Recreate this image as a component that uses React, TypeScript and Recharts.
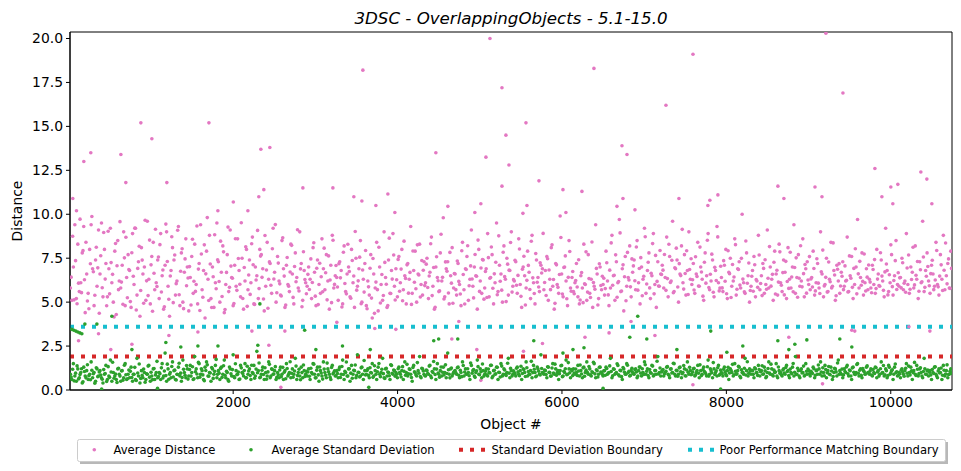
import { ReferenceArea, ReferenceLine, Scatter, ScatterChart, XAxis, YAxis } from "recharts"

// object numbers of the two sampled runs: first object and spacing between samples
const X0 = 20
const X0_B = 29
const STEP = 18

const xTicks = [2000, 4000, 6000, 8000, 10000]
const yTicks = [0, 2.5, 5, 7.5, 10, 12.5, 15, 17.5, 20]

const stdBoundary = 1.9
const poorBoundary = 3.6

// average distance, run A (20 per row)
const avgDistance = [
  5.8, 5.1, 7.0, 9.4, 5.2, 8.3, 5.6, 6.1, 7.8, 9.3, 4.4, 6.6, 5.5, 8.0, 9.4, 6.9, 4.8, 7.4, 5.9, 9.1,
  6.6, 9.5, 5.3, 8.0, 7.2, 5.3, 6.9, 9.2, 6.1, 5.0, 7.9, 4.3, 8.5, 6.2, 5.8, 7.1, 9.0, 4.8, 6.4, 7.7,
  6.8, 4.7, 8.9, 6.0, 9.2, 5.4, 7.3, 4.2, 8.1, 6.6, 7.0, 5.1, 9.6, 6.3, 4.9, 7.6, 8.4, 5.7, 6.1, 7.4,
  5.2, 8.9, 6.5, 4.6, 7.1, 9.0, 5.9, 4.2, 6.8, 8.1, 7.4, 5.4, 6.2, 9.3, 4.8, 7.8, 5.0, 6.7, 8.6, 7.0,
  4.5, 6.4, 7.6, 5.5, 8.3, 6.0, 4.9, 7.2, 9.4, 5.7, 6.8, 4.1, 7.9, 6.3, 8.8, 5.2, 7.0, 4.7, 6.1, 9.5,
  7.3, 5.0, 6.7, 8.2, 4.4, 6.0, 7.7, 5.6, 9.1, 6.4, 4.8, 7.1, 5.9, 8.6, 6.8, 5.3, 7.5, 4.6, 6.2, 8.0,
  5.7, 7.4, 6.1, 8.7, 4.9, 7.0, 6.5, 5.2, 8.0, 7.7, 6.9, 4.5, 5.9, 8.4, 6.3, 7.2, 5.5, 9.2, 6.7, 5.0,
  7.6, 6.2, 5.4, 8.5, 6.9, 4.7, 7.1, 6.0, 5.6, 8.3, 6.6, 4.9, 7.8, 6.4, 5.8, 9.0, 7.2, 5.1, 6.8, 6.1,
  5.9, 7.0, 6.3, 5.2, 8.1, 6.7, 4.8, 7.4, 6.0, 5.5, 8.6, 6.9, 5.7, 7.7, 6.2, 4.6, 7.1, 8.8, 5.8, 6.5,
  6.4, 5.1, 7.3, 6.8, 4.9, 8.2, 5.6, 6.6, 7.0, 5.3, 8.0, 6.1, 4.7, 7.5, 5.9, 6.9, 8.5, 5.0, 6.3, 7.2,
  4.8, 6.2, 5.4, 7.7, 4.1, 6.6, 5.8, 8.4, 4.5, 7.0, 6.0, 5.1, 9.0, 6.4, 4.7, 7.4, 5.5, 6.8, 8.9, 5.9,
  6.9, 5.3, 7.6, 6.1, 8.0, 5.7, 6.5, 4.9, 7.2, 6.3, 9.3, 5.5, 6.8, 7.9, 5.0, 6.6, 8.3, 6.0, 5.4, 7.3,
  6.1, 7.5, 5.2, 6.7, 8.7, 5.9, 4.6, 7.0, 6.4, 5.6, 7.8, 6.2, 9.8, 5.3, 6.9, 7.3, 4.9, 6.5, 8.1, 5.8,
  6.6, 5.4, 7.2, 6.0, 4.8, 8.4, 5.7, 6.9, 7.6, 5.1, 6.3, 9.1, 5.9, 7.0, 6.5, 4.6, 8.0, 6.2, 5.5, 7.4,
  5.8, 6.9, 8.9, 5.3, 6.4, 7.7, 4.9, 6.1, 9.5, 5.6, 7.1, 6.6, 5.0, 8.2, 6.3, 7.5, 5.4, 6.8, 9.0, 5.9,
  6.2, 7.3, 5.5, 8.6, 6.0, 4.7, 7.0, 6.5, 5.8, 7.9, 6.7, 5.2, 8.8, 6.1, 4.9, 7.4, 6.4, 5.6, 7.1, 6.9,
  5.7, 6.8, 7.6, 5.1, 6.3, 8.1, 5.9, 4.6, 7.2, 6.0, 5.5, 9.9, 6.6, 5.3, 7.0, 6.2, 4.8, 8.5, 5.8, 6.4,
  5.6, 6.1, 7.2, 5.3, 4.9, 6.5, 5.8, 8.3, 6.0, 5.1, 7.7, 5.5, 6.3, 4.7, 5.9, 9.4, 6.6, 5.2, 7.0, 5.7,
  6.0, 5.4, 7.9, 6.2, 4.8, 5.8, 8.8, 6.5, 5.1, 7.3, 6.1, 9.7, 5.6, 6.9, 4.5, 7.6, 5.9, 6.4, 8.2, 5.3,
  6.7, 7.4, 5.7, 8.5, 6.1, 4.9, 7.0, 6.3, 9.2, 5.5, 6.8, 7.8, 5.2, 6.5, 8.9, 6.0, 4.7, 7.3, 5.9, 6.6,
  7.1, 5.8, 6.4, 8.7, 5.3, 7.6, 6.2, 9.6, 5.6, 6.9, 7.4, 5.0, 6.6, 8.2, 6.1, 7.7, 5.4, 6.8, 9.0, 6.3,
  6.0, 7.2, 5.5, 6.6, 8.4, 5.9, 7.0, 6.3, 5.1, 7.8, 6.5, 8.9, 5.7, 6.2, 7.4, 5.3, 6.8, 9.3, 6.1, 5.8,
  6.4, 5.6, 7.1, 8.0, 5.2, 6.7, 7.5, 5.9, 6.2, 8.6, 5.4, 6.9, 7.3, 5.8, 10.0, 6.1, 5.5, 7.8, 6.5, 5.0,
  5.9, 6.8, 7.6, 5.3, 6.2, 8.8, 5.7, 6.5, 7.2, 5.5, 6.0, 9.1, 5.8, 7.0, 6.3, 5.1, 7.9, 6.6, 5.4, 8.3,
  6.1, 5.6, 7.4, 6.7, 5.2, 8.1, 6.3, 5.8, 7.0, 9.4, 5.5, 6.4, 7.7, 5.9, 6.2, 8.6, 5.3, 6.9, 7.3, 6.0,
  5.7, 6.4, 7.9, 5.4, 6.1, 7.2, 5.8, 9.0, 6.6, 5.3, 6.0, 7.5, 5.6, 6.3, 8.4, 5.9, 6.8, 5.1, 7.1, 6.2,
  5.5, 6.7, 7.3, 5.9, 6.2, 8.7, 5.6, 6.5, 7.6, 5.2, 6.0, 7.0, 9.7, 5.8, 6.4, 7.8, 5.4, 6.1, 6.9, 5.7,
  6.3, 5.8, 7.1, 6.0, 5.5, 8.0, 6.6, 5.9, 7.4, 6.2, 5.3, 9.2, 6.8, 5.6, 6.1, 7.7, 5.4, 6.5, 8.5, 6.0,
  5.9, 6.4, 7.5, 5.7, 6.2, 8.9, 6.0, 5.5, 7.0, 6.7, 5.8, 8.2, 6.3, 5.2, 7.3, 6.1, 9.6, 5.6, 6.8, 7.8,
  6.2, 5.5, 7.1, 6.6, 5.9, 8.4, 6.0, 5.4, 7.7, 6.3, 8.8, 5.7, 6.5, 7.2, 5.8, 7.9,
]

// average distance, run B
const avgDistanceB = [
  6.42, 8.75, 5.13, 7.36, 4.91, 6.08, 9.72, 5.54, 7.93, 6.27, 8.41, 5.06, 4.62, 7.18, 9.87, 6.73, 5.39, 8.12, 6.95, 4.37,
  7.64, 5.82, 8.96, 6.31, 4.79, 9.03, 5.47, 7.25, 6.58, 4.16, 8.34, 7.07, 5.71, 9.58, 6.14, 4.88, 7.52, 8.69, 5.25, 6.86,
  5.03, 7.81, 6.47, 9.21, 4.55, 6.92, 8.18, 5.66, 7.39, 4.94, 9.66, 6.21, 5.37, 8.53, 7.12, 4.48, 6.64, 9.15, 5.89, 7.57,
  8.27, 5.58, 6.83, 4.73, 9.44, 7.31, 5.16, 6.49, 8.72, 4.97, 7.68, 6.05, 9.09, 5.42, 6.76, 8.04, 4.63, 7.46, 5.93, 6.37,
  7.02, 4.84, 8.58, 6.19, 5.61, 9.33, 6.88, 4.52, 7.74, 5.28, 8.26, 6.61, 9.81, 5.09, 7.17, 4.69, 6.44, 8.83, 5.76, 7.41,
  6.17, 8.47, 5.32, 7.86, 4.58, 6.69, 9.27, 5.84, 7.05, 6.36, 4.92, 8.61, 5.67, 7.48, 6.02, 9.52, 5.21, 6.97, 8.15, 4.76,
  6.54, 5.44, 8.32, 7.13, 4.87, 6.26, 9.08, 5.77, 7.62, 6.41, 5.18, 8.79, 6.83, 4.65, 7.29, 5.96, 8.04, 6.32, 9.41, 5.53,
  7.22, 6.04, 5.35, 8.66, 6.48, 4.83, 7.54, 5.91, 6.71, 8.23, 5.27, 7.03, 6.16, 9.12, 5.63, 6.89, 4.74, 7.87, 6.29, 5.48,
  6.58, 5.72, 7.46, 6.12, 8.38, 5.34, 6.93, 4.86, 7.21, 6.44, 5.59, 8.07, 6.67, 5.13, 7.63, 6.26, 4.97, 8.52, 6.01, 7.08,
  5.86, 7.19, 6.38, 4.72, 7.84, 6.06, 5.47, 8.29, 6.74, 5.22, 7.37, 6.49, 9.02, 5.68, 6.21, 7.56, 4.91, 6.83, 5.57, 7.94,
  4.62, 5.87, 6.93, 5.23, 7.48, 4.36, 6.14, 5.71, 8.12, 4.95, 6.57, 5.38, 7.26, 6.02, 4.81, 8.64, 5.49, 6.31, 7.68, 5.12,
  6.27, 7.43, 5.62, 6.88, 5.08, 8.47, 6.35, 7.12, 5.51, 6.69, 4.87, 7.91, 6.13, 5.76, 8.26, 6.54, 5.29, 7.37, 6.81, 5.94,
  7.16, 5.83, 6.49, 8.32, 5.37, 6.97, 4.71, 7.58, 6.22, 5.64, 8.86, 6.41, 5.18, 7.29, 6.76, 5.52, 7.83, 6.08, 4.94, 6.63,
  5.71, 7.34, 6.18, 5.46, 7.92, 6.57, 4.89, 6.86, 8.21, 5.93, 7.06, 6.32, 5.24, 7.71, 6.47, 8.53, 5.61, 6.94, 7.42, 5.17,
  6.74, 5.26, 7.53, 6.36, 8.14, 5.79, 6.61, 7.27, 5.42, 8.77, 6.19, 5.68, 7.84, 6.45, 5.03, 7.16, 6.82, 8.39, 5.57, 6.28,
  7.38, 5.96, 6.52, 8.02, 5.33, 6.87, 7.61, 4.84, 6.24, 7.09, 5.72, 8.46, 6.38, 5.49, 7.77, 6.13, 5.86, 7.24, 6.66, 8.91,
  6.12, 5.38, 7.47, 6.83, 5.71, 8.26, 6.29, 4.93, 7.12, 5.84, 6.57, 8.68, 5.46, 6.97, 7.63, 5.19, 6.41, 7.88, 5.62, 6.74,
  5.48, 6.23, 5.86, 7.41, 5.12, 6.68, 4.97, 6.04, 7.86, 5.57, 6.34, 5.26, 8.42, 6.11, 5.73, 6.92, 4.84, 7.18, 5.95, 6.47,
  6.36, 5.77, 7.24, 5.41, 6.82, 8.37, 5.96, 6.53, 7.69, 5.28, 6.17, 8.94, 5.63, 7.12, 6.44, 5.08, 7.83, 6.26, 5.87, 7.46,
  7.06, 6.22, 8.14, 5.68, 6.91, 7.53, 5.36, 6.47, 8.72, 6.03, 7.27, 5.81, 6.64, 8.33, 5.47, 7.66, 6.18, 5.92, 7.94, 6.57,
  6.82, 7.71, 5.67, 6.34, 8.29, 6.12, 7.38, 5.53, 6.96, 8.07, 5.86, 7.19, 6.51, 9.14, 5.74, 6.63, 7.92, 5.43, 6.86, 7.47,
  6.27, 5.69, 7.58, 6.46, 5.92, 8.13, 6.71, 5.34, 7.27, 6.08, 8.52, 5.83, 6.59, 7.73, 5.56, 6.98, 6.23, 8.71, 5.64, 7.04,
  5.81, 7.36, 6.19, 5.48, 7.92, 6.62, 5.26, 7.14, 6.43, 8.27, 5.73, 6.86, 5.97, 7.49, 6.31, 5.59, 8.48, 6.07, 7.23, 5.66,
  6.47, 5.62, 7.13, 6.28, 5.84, 7.68, 6.06, 5.37, 6.92, 7.41, 5.73, 6.36, 8.16, 5.91, 6.58, 7.27, 5.46, 6.81, 6.14, 7.86,
  5.96, 6.68, 5.41, 7.32, 6.17, 5.78, 7.84, 6.43, 5.59, 6.97, 7.52, 5.28, 6.36, 8.21, 5.87, 6.62, 7.14, 5.51, 6.26, 7.59,
  6.32, 5.86, 6.91, 5.64, 7.47, 6.08, 5.49, 6.73, 7.96, 5.92, 6.41, 5.57, 7.28, 6.16, 5.81, 8.37, 6.54, 5.36, 6.87, 7.19,
  5.92, 6.47, 5.71, 7.06, 6.24, 5.58, 7.63, 6.36, 5.84, 6.92, 8.04, 5.47, 6.61, 7.32, 5.96, 6.18, 7.74, 5.63, 6.42, 7.11,
  6.14, 5.53, 6.86, 7.42, 5.77, 6.31, 5.94, 7.81, 6.48, 5.67, 6.72, 7.17, 5.41, 6.56, 8.26, 5.88, 6.23, 7.36, 5.72, 6.67,
  6.38, 5.81, 7.24, 6.07, 5.56, 6.94, 7.68, 5.73, 6.29, 8.12, 5.98, 6.53, 7.31, 5.62, 6.84, 6.16, 7.57, 5.84, 6.47, 7.03,
  5.93, 6.62, 7.38, 5.71, 6.26, 7.94, 5.87, 6.48, 7.12, 5.66, 6.81, 8.36, 6.04, 7.46, 5.78, 6.92,
]

// average standard deviation, run A
const avgStdDev = [
  0.9, 0.6, 1.5, 0.8, 0.5, 1.2, 0.7, 1.0, 0.4, 1.3, 0.8, 1.1, 0.6, 0.9, 1.6, 0.7, 1.0, 0.5, 1.2, 0.8,
  1.1, 0.7, 0.4, 0.9, 1.4, 0.6, 0.8, 1.7, 0.5, 1.0, 0.8, 0.6, 1.2, 0.9, 0.5, 1.1, 0.7, 1.5, 0.6, 0.9,
  0.7, 1.3, 0.5, 0.9, 0.6, 1.8, 0.8, 0.4, 1.1, 0.7, 1.0, 0.6, 0.9, 1.4, 0.5, 0.8, 1.2, 0.6, 1.0, 0.7,
  1.0, 0.6, 1.5, 0.8, 2.1, 0.5, 1.2, 0.9, 0.7, 1.6, 1.1, 0.6, 0.9, 1.3, 0.8, 0.5, 1.7, 1.0, 0.7, 1.2,
  0.8, 1.4, 1.0, 0.6, 1.9, 1.2, 0.7, 1.5, 0.9, 1.1, 0.6, 1.3, 1.6, 0.8, 1.0, 0.5, 1.2, 0.9, 1.4, 0.7,
  1.1, 0.6, 1.3, 0.9, 1.7, 0.7, 1.0, 0.5, 1.2, 0.8, 2.0, 0.7, 1.1, 0.9, 0.6, 1.4, 1.0, 0.8, 1.5, 0.7,
  0.9, 1.2, 0.6, 1.0, 1.4, 0.8, 2.2, 1.1, 0.7, 0.9, 1.3, 0.6, 1.0, 0.8, 1.6, 0.7, 1.2, 0.9, 1.1, 0.6,
  1.0, 0.7, 1.3, 0.9, 0.6, 1.1, 1.5, 0.8, 1.0, 0.7, 1.2, 0.9, 1.8, 0.6, 1.0, 0.8, 1.3, 0.7, 1.1, 0.9,
  0.8, 1.2, 0.6, 1.0, 1.5, 0.9, 0.7, 1.3, 0.5, 1.1, 0.8, 1.6, 1.0, 0.7, 1.2, 0.9, 0.6, 1.4, 1.0, 0.8,
  1.1, 0.7, 1.3, 0.9, 1.7, 0.6, 1.0, 0.8, 1.2, 0.5, 1.4, 0.9, 1.1, 0.7, 2.0, 1.0, 0.8, 1.3, 0.6, 1.1,
  0.9, 1.2, 0.7, 1.0, 1.5, 0.8, 1.1, 0.6, 1.3, 0.9, 1.0, 1.8, 0.7, 1.2, 0.8, 1.0, 0.6, 1.4, 0.9, 1.1,
  1.0, 0.7, 1.3, 0.9, 1.1, 0.6, 1.6, 1.0, 0.8, 1.2, 0.9, 0.5, 1.4, 1.0, 0.8, 1.1, 1.9, 0.7, 1.2, 0.9,
  0.8, 1.1, 0.9, 1.4, 0.7, 1.0, 1.2, 0.6, 1.5, 0.9, 1.1, 0.8, 1.3, 1.0, 0.7, 2.1, 0.9, 1.2, 0.8, 1.0,
  1.1, 0.9, 1.3, 0.7, 1.0, 1.6, 0.8, 1.2, 0.9, 1.0, 0.6, 1.4, 1.1, 0.8, 1.0, 1.7, 0.9, 1.2, 0.7, 1.1,
  0.9, 1.2, 0.8, 1.0, 1.4, 0.7, 1.1, 0.9, 1.3, 0.6, 1.0, 1.5, 0.8, 1.2, 0.9, 1.0, 1.8, 0.7, 1.1, 0.9,
  1.0, 0.8, 1.3, 0.9, 1.1, 0.6, 1.2, 1.0, 1.6, 0.8, 0.9, 1.1, 0.7, 1.4, 1.0, 0.8, 1.2, 0.9, 2.0, 1.0,
  0.9, 1.1, 0.7, 1.3, 1.0, 0.8, 1.5, 0.9, 1.2, 1.0, 0.6, 1.1, 1.4, 0.8, 1.0, 1.7, 0.9, 1.2, 0.7, 1.1,
  1.2, 0.9, 1.0, 1.4, 0.8, 1.1, 0.7, 1.3, 1.0, 1.6, 0.9, 1.2, 0.8, 1.0, 1.5, 0.7, 1.1, 0.9, 1.3, 1.0,
  0.8, 1.1, 1.3, 0.9, 1.0, 1.8, 0.7, 1.2, 0.9, 1.0, 1.4, 0.8, 1.1, 0.6, 1.2, 0.9, 1.5, 1.0, 0.8, 1.1,
  1.0, 0.9, 1.2, 0.7, 1.1, 1.3, 0.8, 1.0, 1.6, 0.9, 1.2, 0.7, 1.0, 1.4, 0.8, 1.1, 0.9, 1.9, 1.0, 0.8,
  1.1, 0.8, 1.0, 1.3, 0.9, 0.7, 1.2, 1.0, 1.5, 0.8, 1.1, 0.9, 1.3, 0.7, 1.0, 1.2, 0.8, 1.6, 0.9, 1.1,
  0.9, 1.2, 0.8, 1.0, 1.4, 0.7, 1.1, 0.9, 1.3, 1.0, 0.8, 1.7, 0.9, 1.1, 0.7, 1.2, 1.0, 0.8, 1.4, 0.9,
  1.0, 0.8, 1.3, 0.9, 1.1, 0.6, 1.2, 1.0, 0.8, 1.5, 0.9, 1.1, 1.3, 0.7, 1.0, 0.9, 1.8, 1.1, 0.8, 1.2,
  0.9, 1.1, 0.7, 1.2, 1.0, 1.4, 0.8, 1.1, 0.9, 1.3, 0.7, 1.0, 1.6, 0.9, 1.2, 0.8, 1.0, 1.5, 0.7, 1.1,
  1.0, 0.8, 1.2, 0.9, 1.4, 1.1, 0.7, 1.0, 1.3, 0.8, 1.9, 0.9, 1.1, 0.7, 1.2, 1.0, 0.8, 1.5, 0.9, 1.1,
  0.8, 1.0, 1.3, 0.7, 1.1, 0.9, 1.2, 1.6, 0.8, 1.0, 1.4, 0.7, 1.1, 0.9, 1.3, 0.6, 1.0, 1.2, 0.8, 1.7,
  1.1, 0.9, 0.7, 1.2, 1.0, 1.4, 0.8, 1.1, 0.6, 1.3, 0.9, 1.0, 1.5, 0.8, 1.2, 0.7, 1.1, 0.9, 1.3, 1.0,
  0.9, 1.2, 0.8, 1.0, 1.3, 0.7, 1.1, 0.9, 1.6, 1.0, 0.8, 1.2, 0.7, 1.4, 0.9, 1.1, 0.6, 1.3, 1.0, 0.8,
  1.0, 0.7, 1.2, 0.9, 1.1, 1.5, 0.8, 1.0, 1.3, 0.6, 1.1, 0.9, 1.4, 0.8, 1.2, 1.0, 0.7, 1.8, 0.9, 1.1,
  0.8, 1.1, 0.6, 1.0, 1.3, 0.9, 0.7, 1.2, 1.0, 0.6, 1.4, 0.8, 1.1, 0.7, 0.9, 1.2,
]

// average standard deviation, run B
const avgStdDevB = [
  0.74, 1.18, 0.52, 0.96, 1.37, 0.63, 0.88, 1.21, 0.47, 1.05, 0.69, 1.44, 0.81, 0.58, 1.12, 0.93, 0.39, 1.27, 0.76, 1.03,
  0.85, 0.61, 1.16, 0.94, 0.48, 1.33, 0.72, 1.02, 1.58, 0.67, 0.91, 0.43, 1.24, 0.79, 1.09, 0.56, 1.41, 0.87, 0.64, 1.14,
  1.06, 0.71, 0.89, 1.29, 0.54, 0.97, 1.48, 0.66, 0.83, 1.19, 0.44, 0.92, 1.36, 0.73, 1.01, 0.59, 1.22, 0.86, 1.63, 0.77,
  0.93, 1.26, 0.68, 1.08, 0.82, 1.47, 0.61, 0.99, 1.34, 0.74, 1.13, 0.57, 0.88, 1.52, 0.96, 0.71, 1.18, 0.84, 1.39, 0.62,
  1.17, 0.79, 1.32, 0.64, 1.04, 0.91, 1.57, 0.73, 1.21, 0.86, 0.53, 1.11, 1.43, 0.78, 0.97, 1.28, 0.66, 1.06, 1.74, 0.89,
  0.96, 1.23, 0.72, 1.38, 0.84, 1.07, 0.59, 1.31, 0.92, 1.16, 0.76, 1.49, 0.87, 1.02, 0.63, 1.26, 0.94, 1.11, 0.69, 1.35,
  1.08, 0.82, 1.41, 0.93, 0.67, 1.19, 0.98, 1.54, 0.74, 1.12, 0.88, 1.27, 0.61, 1.03, 1.46, 0.79, 1.17, 0.91, 1.33, 0.72,
  0.87, 1.14, 0.76, 1.29, 1.01, 0.64, 1.22, 0.89, 1.61, 0.95, 0.73, 1.08, 1.36, 0.82, 1.18, 0.58, 0.99, 1.42, 0.77, 1.06,
  1.02, 0.78, 1.24, 0.91, 1.47, 0.69, 1.13, 0.86, 1.31, 0.97, 0.62, 1.19, 0.84, 1.53, 1.04, 0.73, 1.28, 0.92, 1.09, 0.81,
  0.94, 1.16, 0.71, 1.34, 0.88, 1.07, 1.59, 0.79, 1.21, 0.96, 0.67, 1.12, 1.42, 0.83, 1.01, 0.74, 1.26, 0.9, 1.68, 0.85,
  1.11, 0.83, 1.27, 0.97, 0.72, 1.38, 0.89, 1.04, 1.51, 0.76, 1.18, 0.93, 0.66, 1.23, 1.02, 0.81, 1.44, 0.95, 1.14, 0.78,
  0.89, 1.21, 0.99, 0.74, 1.33, 1.06, 0.84, 1.46, 0.92, 1.17, 0.71, 1.28, 1.03, 0.87, 1.56, 0.96, 0.77, 1.24, 1.08, 0.82,
  1.13, 0.93, 1.36, 0.8, 1.05, 1.62, 0.88, 1.19, 0.97, 0.73, 1.31, 1.01, 0.86, 1.43, 0.94, 1.15, 0.69, 1.25, 0.91, 1.07,
  0.98, 1.27, 0.84, 1.12, 0.76, 1.39, 1.02, 0.9, 1.21, 0.81, 1.54, 0.95, 1.16, 0.72, 1.09, 1.33, 0.87, 1.04, 1.48, 0.79,
  1.06, 0.86, 1.19, 0.97, 1.41, 0.78, 1.12, 0.92, 1.29, 1.01, 0.74, 1.36, 0.89, 1.14, 0.83, 1.52, 0.96, 1.23, 0.8, 1.09,
  0.92, 1.24, 1.03, 0.81, 1.35, 0.94, 1.16, 0.77, 1.27, 1.05, 0.88, 1.63, 0.99, 1.18, 0.75, 1.31, 1.07, 0.85, 1.22, 0.97,
  1.14, 0.88, 1.32, 1.01, 0.79, 1.25, 0.96, 1.47, 0.84, 1.11, 0.93, 1.38, 0.76, 1.06, 1.21, 0.87, 1.56, 0.98, 1.17, 0.82,
  0.96, 1.19, 0.83, 1.08, 1.42, 0.91, 1.26, 0.78, 1.13, 0.99, 1.34, 0.86, 1.04, 1.58, 0.92, 1.15, 0.74, 1.29, 1.02, 0.89,
  1.09, 0.84, 1.22, 0.97, 1.37, 1.05, 0.81, 1.18, 0.94, 1.49, 0.87, 1.12, 0.76, 1.28, 1.01, 0.9, 1.41, 1.06, 0.83, 1.24,
  0.93, 1.15, 1.02, 0.79, 1.31, 0.96, 1.21, 0.88, 1.44, 1.07, 0.82, 1.17, 0.95, 1.36, 0.86, 1.11, 1.64, 0.91, 1.25, 1.03,
  1.16, 0.92, 1.07, 1.33, 0.84, 1.19, 0.97, 1.52, 0.89, 1.12, 0.78, 1.26, 1.04, 0.93, 1.39, 0.81, 1.14, 1.01, 1.29, 0.87,
  1.02, 1.24, 0.86, 1.11, 0.95, 1.43, 0.82, 1.17, 1.05, 0.91, 1.32, 0.79, 1.21, 0.98, 1.56, 0.88, 1.09, 1.27, 0.84, 1.13,
  0.94, 1.18, 1.03, 0.81, 1.29, 0.97, 1.12, 1.46, 0.87, 1.06, 0.92, 1.35, 0.78, 1.15, 1.01, 1.24, 0.85, 1.61, 0.96, 1.08,
  1.12, 0.89, 1.26, 0.98, 0.83, 1.17, 1.04, 1.38, 0.91, 1.09, 0.76, 1.22, 0.97, 1.47, 0.86, 1.13, 1.02, 0.8, 1.31, 0.95,
  0.87, 1.14, 0.96, 1.28, 1.05, 0.82, 1.19, 0.93, 1.51, 1.01, 0.88, 1.24, 0.79, 1.11, 0.97, 1.36, 0.85, 1.07, 1.19, 0.92,
  1.06, 0.94, 1.21, 0.84, 1.13, 1.42, 0.9, 1.02, 1.27, 0.81, 1.16, 0.98, 1.34, 0.87, 1.08, 0.77, 1.23, 1.03, 1.54, 0.89,
  0.97, 1.19, 0.86, 1.05, 1.31, 0.92, 1.14, 0.8, 1.26, 1.01, 0.88, 1.45, 0.95, 1.12, 0.83, 1.22, 1.04, 0.91, 1.37, 0.99,
  1.08, 0.85, 1.16, 0.94, 1.27, 1.03, 0.79, 1.21, 0.96, 1.39, 0.87, 1.1, 0.82, 1.29, 0.98, 1.15, 0.9, 1.48, 1.04, 0.84,
  0.92, 1.13, 1.02, 0.78, 1.24, 0.95, 1.36, 0.86, 1.09, 0.99, 1.57, 0.83, 1.18, 0.93, 1.27, 0.8, 1.05, 1.21, 0.89, 1.14,
  1.01, 0.86, 1.17, 0.94, 1.32, 0.79, 1.08, 0.97, 1.25, 0.84, 1.12, 0.91, 1.43, 0.88, 1.06, 0.95,
]

// [object #, value] for points away from the main bands
const distanceHigh = [
  [49, 10.9], [94, 10.2], [183, 13.0], [268, 13.5], [634, 13.4], [694, 11.8], [877, 15.2], [1011, 14.3],
  [1193, 11.8], [1705, 15.2], [1814, 10.2], [2002, 10.7], [2179, 10.2], [2312, 11.0], [2337, 13.7],
  [2373, 11.4], [2446, 13.8], [2848, 11.5], [3213, 11.5], [3468, 11.0], [3566, 10.75], [3578, 18.2],
  [3736, 10.5], [3882, 11.15], [3967, 10.1], [4466, 13.5], [4612, 10.45], [4940, 10.1], [5013, 10.6],
  [5075, 13.25], [5124, 20.0], [5270, 17.2], [5270, 11.6], [5318, 14.5], [5355, 12.8], [5525, 10.05],
  [5562, 15.2], [5574, 10.5], [5720, 11.9], [6012, 11.4], [6048, 10.1], [6243, 11.3], [6389, 18.3],
  [6669, 10.45], [6730, 13.9], [6742, 10.9], [6791, 13.4], [6888, 10.25], [7265, 16.2], [7423, 10.9],
  [7594, 19.1], [7775, 10.5], [7799, 10.8], [7897, 11.1], [8627, 11.6], [8700, 10.9], [9078, 11.55],
  [9163, 11.0], [9211, 20.3], [9418, 16.9], [9807, 12.6], [9892, 11.0], [10001, 11.55], [10025, 10.6],
  [10086, 11.7], [10366, 12.4], [10439, 12.0], [10500, 10.6],
]

const distanceLow = [
  [119, 2.8], [362, 3.2], [511, 2.3], [768, 2.6], [1218, 3.1], [1571, 3.3], [2228, 3.35], [2434, 2.55],
  [2580, 0.15], [2629, 3.35], [3261, 3.85], [3723, 3.5], [3979, 3.45], [4660, 2.9], [4745, 3.9],
  [4964, 2.3], [5013, 0.55], [5532, 2.2], [5763, 2.65], [6280, 3.0], [6573, 3.25], [6840, 3.9],
  [7131, 3.1], [7593, 0.3], [8760, 3.0], [9170, 0.35], [9526, 3.4], [9562, 3.35], [10221, 3.6],
  [10476, 3.35],
]

const stdDevOutliers = [
  [37, 3.45], [62, 3.4], [86, 3.35], [110, 3.3], [135, 3.25], [159, 3.2], [196, 3.75], [342, 3.75],
  [400, 0.05], [524, 4.2], [768, 2.3], [1080, 0.1], [1181, 2.7], [1363, 2.45], [1571, 2.5],
  [1815, 2.5], [2300, 2.55], [2325, 4.9], [2870, 3.4], [3006, 2.3], [3330, 2.5], [3650, 0.15],
  [3668, 2.3], [4440, 2.8], [4500, 2.9], [4732, 2.9], [5657, 2.8], [6012, 2.1], [6134, 2.3],
  [6268, 2.4], [6500, 0.1], [6825, 3.0], [6922, 4.2], [7032, 2.9], [7398, 2.3], [7810, 3.35],
  [7930, 0.05], [8006, 2.15], [8200, 2.5], [8626, 2.8], [8760, 2.3], [8833, 2.6], [8979, 2.85],
  [9380, 2.9], [9526, 2.45],
]

const sampled = (vals: number[], x0: number) => vals.map((y, i) => ({ x: x0 + i * STEP, y }))
const pairs = (list: number[][]) => list.map(([x, y]) => ({ x, y }))

const distanceData = [
  ...sampled(avgDistance, X0),
  ...sampled(avgDistanceB, X0_B),
  ...pairs(distanceHigh),
  ...pairs(distanceLow),
]
const stdDevData = [...sampled(avgStdDev, X0), ...sampled(avgStdDevB, X0_B), ...pairs(stdDevOutliers)]

const PINK = "#e377c2"
const GREEN = "#2ca02c"
const RED = "#d62728"
const CYAN = "#17becf"
const FONT = "'DejaVu Sans', sans-serif"

const dot = (fill: string) => (p: any) => <circle cx={p.cx} cy={p.cy} r={1.8} fill={fill} />

const tick = { fill: "#000", fontSize: 13.9 }

export default function App() {
  return (
    <div style={{ position: "absolute", left: 0, top: 0, width: 961, height: 471, background: "#fff", fontFamily: FONT }}>
      <ScatterChart width={961} height={471} margin={{ top: 32, right: 9, bottom: 31, left: 0 }}>
        <XAxis
          type="number"
          dataKey="x"
          domain={[15, 10745]}
          ticks={xTicks}
          allowDataOverflow
          height={50}
          tick={tick}
          tickSize={4}
          tickMargin={3}
          stroke="#000"
          label={{ value: "Object #", position: "insideBottom", offset: 11, fill: "#000", fontSize: 13.9 }}
        />
        <YAxis
          type="number"
          dataKey="y"
          domain={[0, 20.37]}
          ticks={yTicks}
          allowDataOverflow
          width={70}
          tick={tick}
          tickSize={4}
          tickMargin={3}
          stroke="#000"
          tickFormatter={(v: number) => v.toFixed(1)}
          label={({ viewBox }: any) => (
            <text
              x={22}
              y={viewBox.y + viewBox.height / 2}
              transform={`rotate(-90 22 ${viewBox.y + viewBox.height / 2})`}
              textAnchor="middle"
              fill="#000"
              fontSize={13.9}
            >
              Distance
            </text>
          )}
        />
        <Scatter data={distanceData} shape={dot(PINK)} isAnimationActive={false} />
        <Scatter data={stdDevData} shape={dot(GREEN)} isAnimationActive={false} />
        <ReferenceLine y={stdBoundary} stroke={RED} strokeWidth={4} strokeDasharray="4 7" />
        <ReferenceLine y={poorBoundary} stroke={CYAN} strokeWidth={4} strokeDasharray="4 7" />
        <ReferenceArea x1={15} x2={10745} y1={0} y2={20.37} fill="none" stroke="#000" strokeWidth={1} fillOpacity={0} />
      </ScatterChart>

      <svg width={961} height={471} style={{ position: "absolute", left: 0, top: 0, pointerEvents: "none" }}>
        <text x={511} y={24} textAnchor="middle" fontSize={16.67} fontStyle="italic" fill="#000">
          3DSC - OverlappingObjects - 5.1-15.0
        </text>
        <rect x={80} y={442} width={868} height={22} fill="#888" opacity={0.6} />
        <rect x={77.5} y={439.5} width={868} height={22} rx={2} fill="#fff" stroke="#ccc" />
        <circle cx={94.3} cy={449.7} r={1.8} fill={PINK} />
        <text x={113.5} y={453.5} fontSize={11.6} fill="#000">Average Distance</text>
        <circle cx={251} cy={449.7} r={1.8} fill={GREEN} />
        <text x={271.5} y={453.5} fontSize={11.6} fill="#000">Average Standard Deviation</text>
        <line x1={459} y1={449.7} x2={485} y2={449.7} stroke={RED} strokeWidth={4} strokeDasharray="4 7" />
        <text x={491.5} y={453.5} fontSize={11.6} fill="#000">Standard Deviation Boundary</text>
        <line x1={688} y1={449.7} x2={714} y2={449.7} stroke={CYAN} strokeWidth={4} strokeDasharray="4 7" />
        <text x={719.5} y={453.5} fontSize={11.6} fill="#000">Poor Performance Matching Boundary</text>
      </svg>
    </div>
  )
}
